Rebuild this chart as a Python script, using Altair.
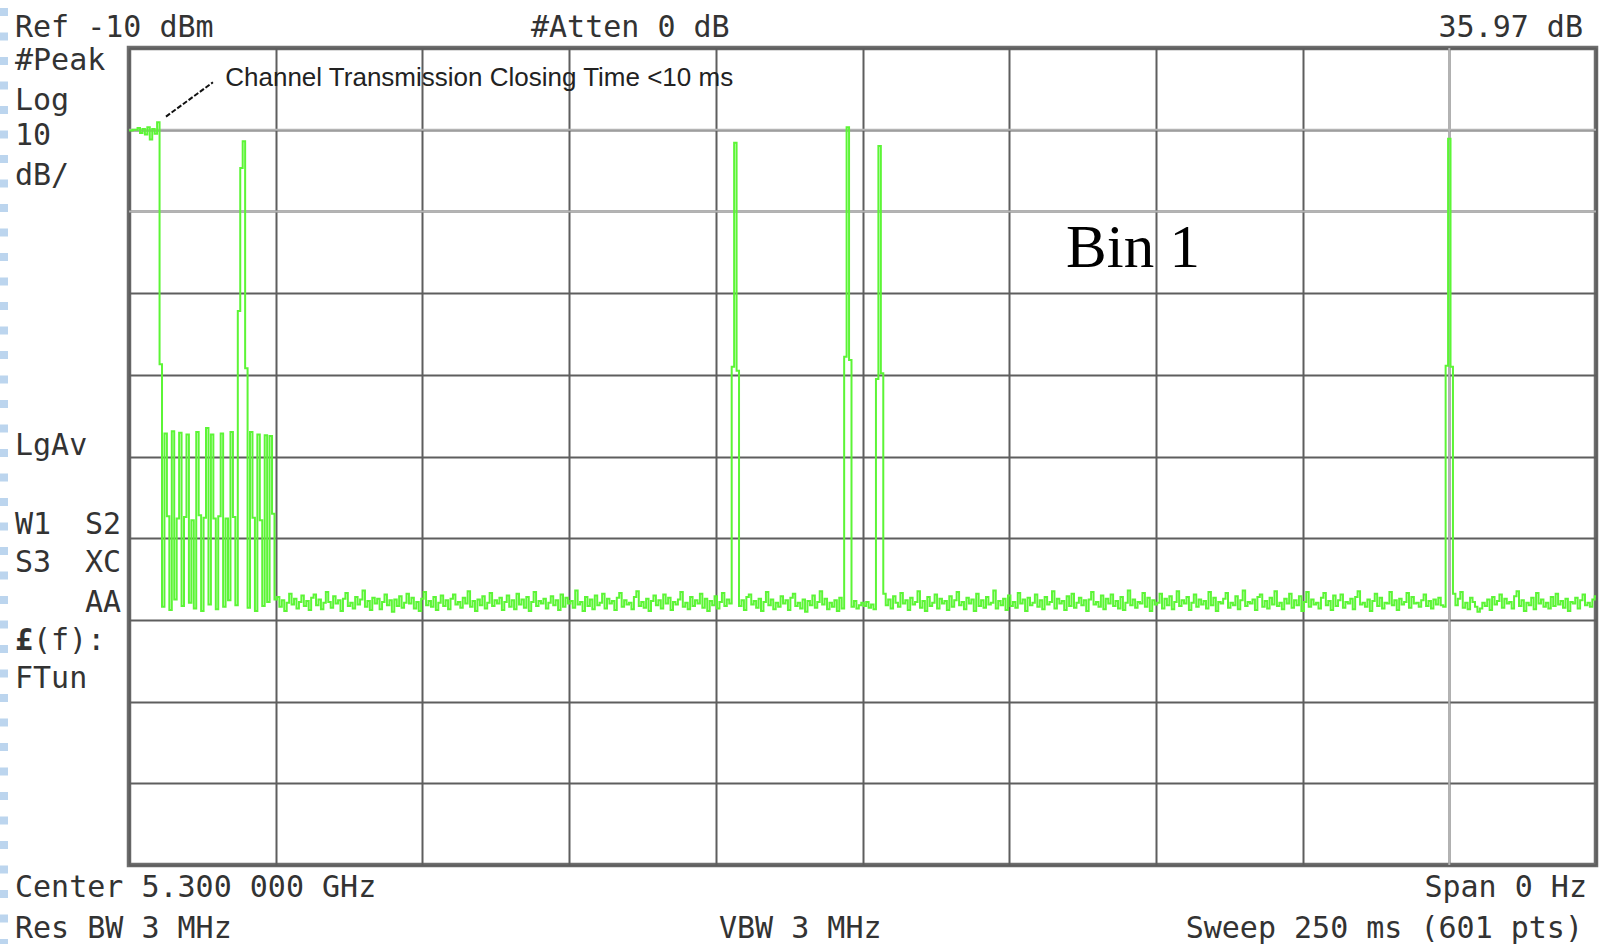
import altair as alt
import pandas as pd

SWEEP_MS = 250
N_POINTS = 601
REF_DBM = -10
DB_PER_DIV = 10

# ---- trace values (dBm), sample by sample ----
closing_segment = [-20.1, -20.1, -20.0, -20.0, -19.8, -20.4, -19.9, -20.6, -19.7, -21.2,
                   -19.9, -20.5, -19.1]
burst_segment = [-48.7, -78.4, -57.2, -67.3, -78.8, -56.9, -77.5, -67.6, -57.1, -78.3,
                 -67.4, -57.3, -77.9, -67.8, -78.6, -57.0, -67.2, -78.9, -67.5, -56.5,
                 -78.1, -57.3, -67.6, -78.7, -67.3, -57.2, -78.4, -67.6, -77.6, -57.0,
                 -67.4, -78.2, -42.2, -24.7, -21.4, -49.2, -78.5, -57.0, -67.5, -78.9,
                 -57.3, -67.8, -78.3, -57.4, -77.8, -57.5, -67.0, -77.5]
floor_1 = [-77.2, -78.4, -77.6, -78.9, -77.9, -76.8, -78.1, -77.4, -78.6, -77.8,
           -77.0, -78.3, -77.7, -78.8, -77.3, -76.9, -78.2, -77.5, -78.7, -77.9,
           -76.6, -77.8, -78.5, -77.1, -78.0, -77.6, -78.9, -77.4, -76.7, -78.3,
           -77.9, -78.6, -77.2, -78.1, -77.5, -76.4, -78.4, -77.7, -78.8, -77.3,
           -78.0, -77.4, -78.7, -77.8, -76.9, -78.2, -77.6, -79.0, -77.5, -78.3,
           -77.1, -78.5, -77.9, -76.8, -78.0, -77.3, -78.6, -77.8, -78.9, -77.4,
           -76.6, -78.2, -77.7, -78.4, -77.2, -78.8, -77.9, -77.0, -78.3, -77.6,
           -78.7, -77.4, -76.9, -78.1, -77.8, -78.5, -77.3, -78.0, -76.5, -78.4,
           -77.7, -78.9, -77.5, -78.2, -77.1, -78.6, -77.9, -76.7, -78.3, -77.6,
           -78.0, -77.3, -78.8, -77.8, -77.0, -78.4, -77.6, -78.7, -76.8, -78.1,
           -77.5, -78.5, -77.2, -78.9, -77.8, -76.6, -78.3, -77.7, -78.0, -77.4,
           -78.6, -77.9, -77.1, -78.2, -77.6, -78.8, -76.9, -78.4, -77.3, -78.0,
           -77.7, -78.5, -76.4, -78.1, -77.8, -78.9, -77.2, -78.3, -77.5, -78.7,
           -77.0, -78.2, -77.9, -76.8, -78.6, -77.4, -78.0, -77.7, -78.8, -77.3,
           -76.7, -78.4, -77.6, -78.1, -77.9, -78.7, -77.2, -76.5, -78.3, -77.8,
           -78.5, -77.4, -78.9, -77.7, -77.0, -78.2, -77.6, -78.6, -76.9, -78.0,
           -77.3, -78.8, -77.8, -78.1, -77.5, -76.6, -78.4, -77.9, -78.7, -77.2,
           -78.3, -77.6, -78.0, -76.8, -78.5, -77.4, -78.9, -77.7, -78.2, -77.1,
           -78.6, -77.8, -76.7, -78.3, -77.5, -78.0]
pulse_1 = [-49.0, -21.6, -49.5]
floor_2 = [-78.3, -77.6, -78.8, -77.2, -76.9, -78.1, -77.7, -78.5, -77.4, -78.9,
           -77.8, -76.6, -78.2, -77.5, -78.7, -77.9, -78.4, -77.1, -78.0, -77.6,
           -78.8, -77.3, -76.8, -78.3, -77.9, -78.6, -77.5, -79.0, -77.7, -78.2,
           -77.0, -78.5, -77.8, -76.5, -78.1, -77.4, -78.7, -77.9, -78.4, -77.6,
           -78.9, -77.3, -78.6]
pulse_2 = [-47.8, -19.7, -48.2]
floor_3 = [-78.4, -77.7, -78.6, -78.2, -77.9, -78.3, -77.8, -78.5, -78.1, -78.7]
pulse_3 = [-50.5, -22.0, -49.8]
floor_4 = [-76.8, -78.2, -77.5, -78.6, -77.1, -77.9, -78.4, -76.7, -78.0, -77.6,
           -78.8, -77.3, -78.1, -77.8, -76.5, -78.5, -77.7, -78.9, -77.2, -78.3,
           -77.9, -76.9, -78.6, -77.4, -78.0, -77.7, -78.8, -77.1, -78.4, -77.6,
           -76.6, -78.2, -77.8, -78.7, -77.3, -78.0, -77.5, -78.9, -76.8, -78.3,
           -77.6, -78.5, -77.2, -78.1, -77.9, -76.4, -78.6, -77.7, -78.2, -77.4,
           -78.8, -77.0, -78.3, -77.8, -78.5, -76.7, -78.0, -77.5, -78.9, -77.3,
           -78.2, -77.9, -76.9, -78.4, -77.6, -78.7, -77.2, -78.1, -77.8, -76.5,
           -78.6, -77.4, -78.0, -77.7, -78.8, -77.1, -78.3, -76.8, -78.5, -77.9,
           -77.3, -78.2, -77.6, -78.9, -77.5, -76.6, -78.1, -77.8, -78.4, -77.0,
           -78.7, -77.4, -78.0, -76.9, -78.3, -77.7, -78.6, -77.2, -78.8, -77.9,
           -76.4, -78.2, -77.5, -78.5, -77.8, -78.0, -76.7, -78.4, -77.3, -78.9,
           -77.6, -78.1, -77.9, -76.8, -78.6, -77.4, -78.2, -77.1, -78.7, -77.8,
           -76.5, -78.3, -77.6, -78.0, -77.2, -78.8, -77.9, -76.9, -78.4, -77.5,
           -78.1, -77.7, -78.6, -76.6, -78.2, -77.3, -78.9, -77.8, -78.0, -77.4,
           -76.7, -78.5, -77.9, -78.2, -77.1, -78.7, -77.6, -76.4, -78.3, -77.8,
           -78.0, -77.5, -78.8, -77.2, -76.9, -78.4, -77.7, -78.6, -77.3, -78.1,
           -76.5, -78.3, -77.9, -78.7, -77.4, -78.0, -76.8, -78.5, -77.6, -78.2,
           -77.1, -78.9, -77.8, -76.6, -78.4, -77.5, -78.1, -77.9, -78.6, -77.3,
           -76.7, -78.2, -77.7, -78.8, -77.0, -78.3, -77.6, -76.9, -78.5, -77.8,
           -78.0, -77.4, -78.7, -77.2, -76.5, -78.1, -77.9, -78.4, -77.5, -78.9,
           -77.7, -76.8, -78.3, -77.3, -78.6, -77.9, -78.0, -76.6, -78.2, -77.6,
           -78.8, -77.4, -78.1, -77.8, -76.7, -78.5, -77.2, -78.0, -77.9, -78.4,
           -77.6, -76.9, -78.3, -77.7, -78.6, -77.5, -78.1, -77.3, -78.2, -78.4]
pulse_4 = [-48.9, -21.1, -49.0]
floor_5 = [-76.8, -78.2, -77.4, -76.6, -78.5, -77.9, -78.7, -77.3, -77.8, -78.4,
           -79.0, -78.6, -77.9, -78.3, -77.5, -78.8, -77.2, -78.1, -77.7, -76.9,
           -78.5, -77.4, -78.0, -77.8, -78.6, -77.1, -76.5, -78.3, -77.6, -78.9,
           -77.9, -78.2, -77.3, -78.7, -76.7, -78.0, -77.5, -78.4, -77.9, -78.6,
           -77.2, -78.3, -76.8, -78.1, -77.7, -78.5, -77.4, -78.9, -77.8, -78.0,
           -77.3, -78.6, -77.6, -76.9, -78.2, -77.9, -78.4, -77.5, -77.1]

segments = [closing_segment, burst_segment, floor_1, pulse_1, floor_2, pulse_2,
            floor_3, pulse_3, floor_4, pulse_4, floor_5]
trace_dbm = [v for seg in segments for v in seg]

x_grid_ms = [0, 25, 50, 75, 100, 125, 150, 175, 200, 225, 250]
y_grid_dbm = [-10, -20, -30, -40, -50, -60, -70, -80, -90, -100, -110]
light_x_ms = [225]
light_y_dbm = [-20, -30]

# annotation anchors (data coordinates)
note_text = ["Channel Transmission Closing Time <10 ms"]
note_t = [16.4]
note_dbm = [-14.6]
leader_t = [6.3]
leader_dbm = [-18.4]
leader_t2 = [14.3]
leader_dbm2 = [-14.2]
bin_text = ["Bin 1"]
bin_t = [159.7]
bin_dbm = [-36.8]

W, H = 1467, 817
PAD_L, PAD_T = 129, 48

n = len(trace_dbm)
df = pd.DataFrame({
    "t": [i * SWEEP_MS / (N_POINTS - 1) for i in range(n)],
    "dbm": trace_dbm,
})

xs = alt.Scale(domain=[0, SWEEP_MS], nice=False, zero=False)
ys = alt.Scale(domain=[REF_DBM - 10 * DB_PER_DIV, REF_DBM], nice=False, zero=False)

GRID_DARK = "#5e5e5e"
GRID_LIGHT = "#b4b4b4"
GREEN = "#5cf536"
MONO = "DejaVu Sans Mono"
TXT = "#333333"

trace = alt.Chart(df).mark_line(color=GREEN, strokeWidth=2, interpolate="step").encode(
    x=alt.X("t:Q", scale=xs,
            axis=alt.Axis(values=x_grid_ms, labels=False, ticks=False, domain=False,
                          title=None, grid=True, gridColor=GRID_DARK, gridWidth=2)),
    y=alt.Y("dbm:Q", scale=ys,
            axis=alt.Axis(values=y_grid_dbm, labels=False, ticks=False, domain=False,
                          title=None, grid=True, gridColor=GRID_DARK, gridWidth=2)),
)

light_v = alt.Chart(pd.DataFrame({"t": light_x_ms})).mark_rule(
    color=GRID_LIGHT, strokeWidth=2).encode(x=alt.X("t:Q", scale=xs))
light_h = alt.Chart(pd.DataFrame({"dbm": light_y_dbm})).mark_rule(
    color=GRID_LIGHT, strokeWidth=2).encode(y=alt.Y("dbm:Q", scale=ys))

leader = alt.Chart(pd.DataFrame({"t": leader_t, "dbm": leader_dbm,
                                 "t2": leader_t2, "dbm2": leader_dbm2})).mark_rule(
    color="#111111", strokeWidth=2, strokeDash=[5, 2]).encode(
    x=alt.X("t:Q", scale=xs), y=alt.Y("dbm:Q", scale=ys), x2="t2:Q", y2="dbm2:Q")

note = alt.Chart(pd.DataFrame({"t": note_t, "dbm": note_dbm, "label": note_text})).mark_text(
    font="Liberation Sans", fontSize=26, color="#222222", align="left",
    baseline="alphabetic").encode(
    x=alt.X("t:Q", scale=xs), y=alt.Y("dbm:Q", scale=ys), text="label:N")

bin_label = alt.Chart(pd.DataFrame({"t": bin_t, "dbm": bin_dbm, "label": bin_text})).mark_text(
    font="Liberation Serif", fontSize=61, color="#000000", align="left",
    baseline="alphabetic").encode(
    x=alt.X("t:Q", scale=xs), y=alt.Y("dbm:Q", scale=ys), text="label:N")


def screen_label(text, px, py, align="left", weight="normal", size=30):
    """Instrument annotation placed in page pixels (converted to plot offsets)."""
    return alt.Chart(pd.DataFrame({"label": [text]})).mark_text(
        font=MONO, fontSize=size, color=TXT, align=align, baseline="alphabetic",
        fontWeight=weight).encode(
        x=alt.value(px - PAD_L), y=alt.value(py - PAD_T), text="label:N")


labels = [
    screen_label("Ref -10 dBm", 15, 37),
    screen_label("#Atten 0 dB", 531, 37),
    screen_label("35.97 dB", 1583, 37, align="right"),
    screen_label("#Peak", 15, 70),
    screen_label("Log", 15, 110),
    screen_label("10", 15, 145),
    screen_label("dB/", 15, 185),
    screen_label("LgAv", 15, 455),
    screen_label("W1", 15, 534),
    screen_label("S2", 121, 534, align="right"),
    screen_label("S3", 15, 572),
    screen_label("XC", 121, 572, align="right"),
    screen_label("AA", 121, 612, align="right"),
    screen_label("£", 15, 650, weight="bold"),
    screen_label("(f):", 33, 650),
    screen_label("FTun", 15, 688),
    screen_label("Center 5.300 000 GHz", 15, 897),
    screen_label("Span 0 Hz", 1587, 897, align="right"),
    screen_label("Res BW 3 MHz", 15, 938),
    screen_label("VBW 3 MHz", 719, 938),
    screen_label("Sweep 250 ms (601 pts)", 1583, 938, align="right"),
]

# light-blue dotted strip at the very left edge of the slide
strip = alt.Chart(pd.DataFrame({"k": [0]})).mark_rule(
    color="#bcd5ee", strokeWidth=8, strokeDash=[8, 16.5], strokeDashOffset=0).encode(
    x=alt.value(4 - PAD_L), y=alt.value(8 - PAD_T), y2=alt.value(944 - PAD_T))

chart = alt.layer(light_v, light_h, trace, leader, note, bin_label, strip, *labels).properties(
    width=W, height=H,
    autosize=alt.AutoSizeParams(type="none"),
    padding={"left": PAD_L, "top": PAD_T, "right": 1600 - PAD_L - W, "bottom": 944 - PAD_T - H},
    background="#ffffff",
).configure_view(stroke="#6e6e6e", strokeWidth=4.5)

chart.save("out.html", embed_options={"renderer": "svg", "actions": False})
